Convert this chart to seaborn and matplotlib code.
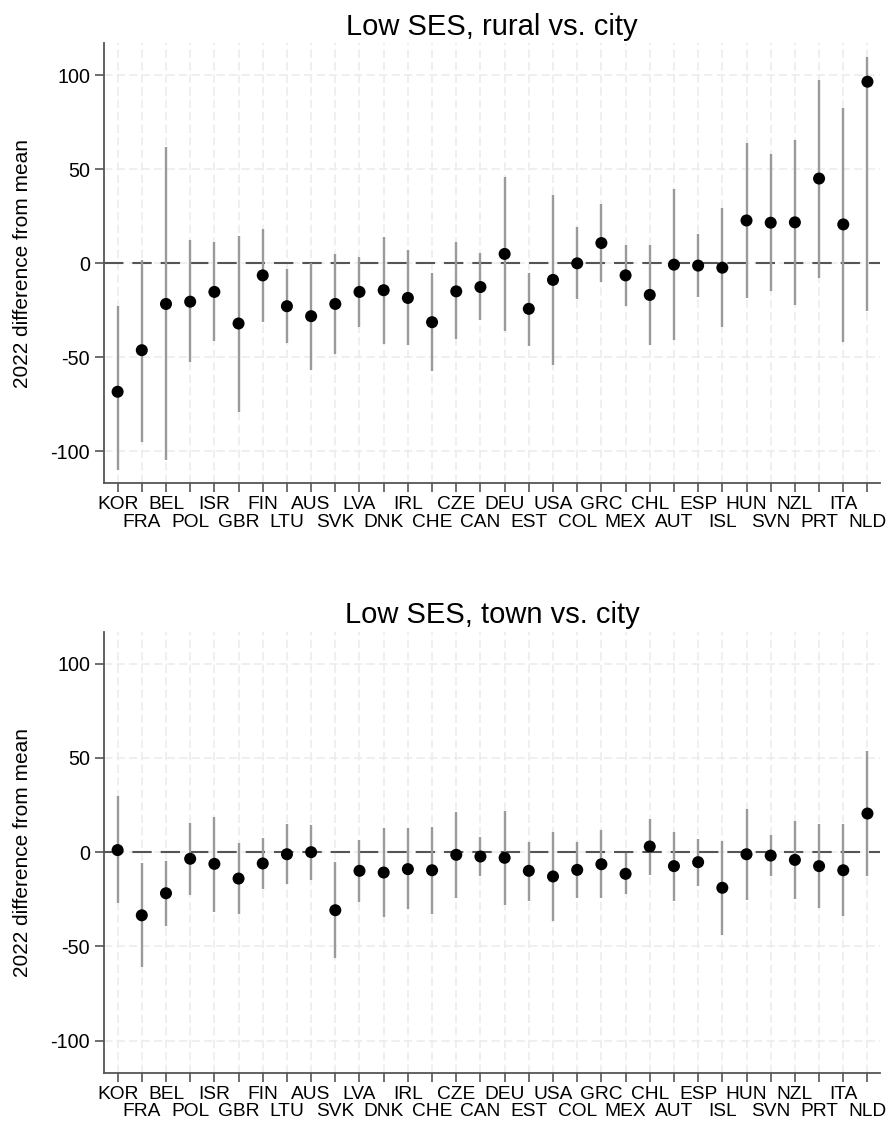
import numpy as np
import pandas as pd
import matplotlib
matplotlib.use("Agg")
import matplotlib.pyplot as plt
import seaborn as sns

# countries in plotting order
countries = ["KOR", "FRA", "BEL", "POL", "ISR", "GBR", "FIN", "LTU", "AUS", "SVK",
             "LVA", "DNK", "IRL", "CHE", "CZE", "CAN", "DEU", "EST", "USA", "COL",
             "GRC", "MEX", "CHL", "AUT", "ESP", "ISL", "HUN", "SVN", "NZL", "PRT",
             "ITA", "NLD"]

# Low SES, rural vs. city
rural_est = [-68.3, -46.2, -21.6, -20.4, -15.2, -32.0, -6.4, -22.8, -28.1, -21.6,
             -15.2, -14.3, -18.4, -31.3, -14.9, -12.6, 5.0, -24.2, -8.8, 0.0,
             10.8, -6.4, -16.8, -0.7, -1.2, -2.3, 22.8, 21.6, 21.8, 45.1,
             20.7, 96.6]
rural_lo = [-110.0, -95.0, -104.8, -52.7, -41.2, -79.0, -31.2, -42.5, -56.6, -48.3,
            -33.8, -42.7, -43.5, -57.3, -40.5, -30.4, -35.9, -43.7, -54.0, -19.1,
            -10.1, -22.5, -43.2, -41.0, -17.7, -34.0, -18.2, -14.7, -21.9, -7.6,
            -41.6, -25.1]
rural_hi = [-22.7, 2.0, 62.0, 12.4, 11.2, 14.7, 18.4, -3.0, 0.0, 5.0,
            3.5, 13.8, 7.0, -5.3, 11.2, 5.3, 45.7, -5.0, 36.5, 19.3,
            31.7, 9.6, 9.7, 39.5, 15.4, 29.6, 64.0, 57.9, 65.5, 97.7,
            82.8, 110.0]

# Low SES, town vs. city
town_est = [1.1, -33.5, -21.8, -3.5, -6.2, -14.0, -6.0, -1.1, 0.0, -30.8,
            -9.9, -10.8, -9.0, -9.6, -1.4, -2.3, -3.0, -9.9, -12.9, -9.4,
            -6.4, -11.5, 3.0, -7.4, -5.3, -18.9, -1.1, -1.8, -4.1, -7.4,
            -9.6, 20.5]
town_lo = [-27.1, -60.7, -39.1, -22.7, -31.5, -32.7, -19.6, -16.8, -14.9, -56.3,
           -26.5, -34.2, -30.1, -32.9, -24.1, -12.6, -28.0, -25.7, -36.5, -24.1,
           -24.1, -22.1, -11.9, -25.8, -17.7, -43.7, -25.3, -12.9, -24.8, -29.7,
           -33.8, -12.4]
town_hi = [29.6, -5.8, -4.6, 15.6, 18.9, 4.8, 7.6, 14.9, 14.5, -5.3,
           6.7, 12.6, 12.6, 13.6, 21.1, 7.8, 21.6, 5.5, 10.6, 5.3,
           11.5, -0.5, 17.7, 10.6, 6.9, 6.0, 22.7, 9.0, 16.8, 14.7,
           14.7, 53.8]

titles = ["Low SES, rural vs. city", "Low SES, town vs. city"]
yticks = [-100, -50, 0, 50, 100]

sns.set_theme(style="white")
plt.rcParams['font.family'] = ['Liberation Sans', 'DejaVu Sans']

fig = plt.figure(figsize=(8.9, 11.29), dpi=100)
ax_top = fig.add_axes([0.1172, 0.5719, 0.8716, 0.3897])
ax_bot = fig.add_axes([0.1172, 0.0499, 0.8716, 0.3906])

panels = [
    (ax_top, rural_est, rural_lo, rural_hi, titles[0]),
    (ax_bot, town_est, town_lo, town_hi, titles[1]),
]

# labels alternate between two rows: even positions as major ticks, odd as minor
pos = np.arange(len(countries))
upper_pos, lower_pos = pos[0::2], pos[1::2]
upper_lab, lower_lab = countries[0::2], countries[1::2]

for ax, est, lo, hi, title in panels:
    df = pd.DataFrame({"country": countries, "est": est, "lo": lo, "hi": hi})

    ax.set_axisbelow(True)

    ax.axhline(0, color="#555555", linewidth=1.5, linestyle=(0, (9.3, 4.3)), zorder=1.5)
    ax.vlines(df["country"], df["lo"], df["hi"], color="#9a9a9a", linewidth=1.7, zorder=2)
    sns.scatterplot(data=df, x="country", y="est", ax=ax, color="black",
                    s=75, edgecolor="none", zorder=3)

    ax.set_xlim(-0.55, 31.52)
    ax.set_ylim(-117, 117)
    ax.set_yticks(yticks)
    ax.set_yticklabels([str(v) for v in yticks], fontsize=14.2)
    ax.set_xticks(upper_pos)
    ax.set_xticklabels(upper_lab, fontsize=13.8)
    ax.set_xticks(lower_pos, minor=True)
    ax.set_xticklabels(lower_lab, minor=True, fontsize=13.8)

    grid_kw = dict(color="#ececec", linestyle=(0, (5, 2.5)), linewidth=1.2)
    ax.xaxis.grid(True, which="both", **grid_kw)
    ax.yaxis.grid(True, which="major", **grid_kw)

    for side in ["top", "right"]:
        ax.spines[side].set_visible(False)
    for side in ["left", "bottom"]:
        ax.spines[side].set_color("#555555")
        ax.spines[side].set_linewidth(1.3)

    ax.tick_params(axis="both", which="both", direction="out", length=6.3, width=1.2,
                   color="#555555", bottom=True, left=True, labelcolor="black")
    ax.tick_params(axis="x", which="major", pad=3)
    ax.tick_params(axis="x", which="minor", pad=15.5)
    ax.tick_params(axis="y", pad=4)

    ax.set_xlabel("")
    ax.set_ylabel("2022 difference from mean", fontsize=15, labelpad=13, color="black")
    ax.set_title(title, fontsize=21, pad=6, color="black")

fig.savefig("out.png", dpi=100)
